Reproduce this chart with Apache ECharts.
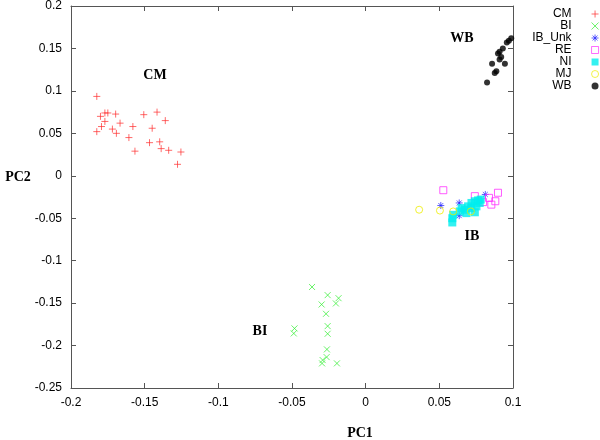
<!DOCTYPE html>
<html><head><meta charset="utf-8">
<script src="https://cdn.jsdelivr.net/npm/echarts@6/dist/echarts.min.js"></script>
<style>html,body{margin:0;padding:0;background:#fff}#c{width:600px;height:440px}</style>
</head><body><div id="c"></div>
<script>
var seriesNames = ['CM','BI','IB_Unk','RE','NI','MJ','WB'];
var xTicks = [-0.2,-0.15,-0.1,-0.05,0,0.05,0.1];
var yTicks = [-0.25,-0.2,-0.15,-0.1,-0.05,0,0.05,0.1,0.15,0.2];
var cmData = [[-0.1825,0.0935],[-0.180,0.070],[-0.177,0.074],[-0.175,0.074],[-0.1697,0.0727],[-0.177,0.064],[-0.1793,0.058],[-0.1825,0.052],[-0.1667,0.062],[-0.1719,0.055],[-0.1692,0.050],[-0.1607,0.045],[-0.158,0.058],[-0.1506,0.072],[-0.1416,0.075],[-0.136,0.065],[-0.1449,0.056],[-0.1566,0.029],[-0.1467,0.039],[-0.1398,0.040],[-0.1388,0.032],[-0.1337,0.030],[-0.1254,0.028],[-0.1277,0.0135]];
var biData = [[-0.0364,-0.131],[-0.0258,-0.1406],[-0.0184,-0.1442],[-0.0202,-0.1504],[-0.0299,-0.1516],[-0.0269,-0.1626],[-0.0483,-0.1798],[-0.0488,-0.1857],[-0.0258,-0.1771],[-0.0258,-0.1861],[-0.0263,-0.2045],[-0.0265,-0.2136],[-0.0292,-0.2171],[-0.0296,-0.221],[-0.0195,-0.221]];
var ibUnkData = [[0.051,-0.035],[0.0635,-0.032],[0.0635,-0.047],[0.0812,-0.022]];
var reData = [[0.0527,-0.017],[0.0741,-0.024],[0.0837,-0.026],[0.088,-0.030],[0.0853,-0.034],[0.0898,-0.020],[0.0797,-0.031]];
var niData = [[0.0588,-0.055],[0.0588,-0.050],[0.0594,-0.046],[0.0639,-0.042],[0.0673,-0.040],[0.0695,-0.036],[0.0718,-0.032],[0.0741,-0.030],[0.0763,-0.029],[0.0781,-0.028],[0.0684,-0.044],[0.0741,-0.043],[0.0718,-0.038],[0.0752,-0.036],[0.0651,-0.038],[0.0774,-0.032]];
var mjData = [[0.0363,-0.040],[0.0504,-0.041],[0.0594,-0.042],[0.0714,-0.042]];
var wbData = [[0.0972,0.159],[0.0988,0.162],[0.0958,0.157],[0.0931,0.150],[0.0909,0.146],[0.0898,0.144],[0.092,0.140],[0.0909,0.137],[0.0858,0.132],[0.0945,0.132],[0.0887,0.123],[0.0876,0.121],[0.0824,0.110]];

var chart = echarts.init(document.getElementById('c'), null, {renderer:'canvas'});
var fmt = function(v){ return String(+(+v).toFixed(2)); };
var axCol = '#555';
function strokeSym(name, data, path, col, size){
  return {name:name, type:'scatter', data:data, symbol:path, symbolSize:size,
    itemStyle:{color:'rgba(0,0,0,0)', borderColor:col, borderWidth:0.9}};
}
var series = [
  strokeSym('CM', cmData, 'path://M5,0L5,10M0,5L10,5', '#ff3030', 7),
  strokeSym('BI', biData, 'path://M0,0L10,10M10,0L0,10', '#30ee30', 6),
  strokeSym('IB_Unk', ibUnkData, 'path://M5,0L5,10M0,5L10,5M1.5,1.5L8.5,8.5M8.5,1.5L1.5,8.5', '#2222ff', 7),
  {name:'RE', type:'scatter', data:reData, symbol:'rect', symbolSize:7, itemStyle:{color:'rgba(0,0,0,0)', borderColor:'#ff33ff', borderWidth:1}},
  {name:'NI', type:'scatter', data:niData, symbol:'rect', symbolSize:8, itemStyle:{color:'#00eeee'}},
  {name:'MJ', type:'scatter', data:mjData, symbol:'circle', symbolSize:7, itemStyle:{color:'rgba(0,0,0,0)', borderColor:'#eeee00', borderWidth:1}},
  {name:'WB', type:'scatter', data:wbData, symbol:'circle', symbolSize:6, itemStyle:{color:'#000'}}
];
var lblFont = 'bold 14px "Liberation Serif", "DejaVu Serif", serif';
function txt(x,y,s){ return {type:'text', x:x, y:y, style:{text:s, font:lblFont, fill:'#000', align:'center', verticalAlign:'middle', textAlign:'center', textVerticalAlign:'middle'}}; }
chart.setOption({
  animation:false,
  backgroundColor:'#fff',
  grid:{left:71, right:87, top:6, bottom:52, containLabel:false},
  xAxis:[
    {type:'value', min:xTicks[0], max:xTicks[xTicks.length-1], interval:0.05, position:'bottom',
     axisLine:{onZero:false, lineStyle:{color:axCol}}, axisTick:{inside:true, length:5, lineStyle:{color:axCol}},
     axisLabel:{formatter:fmt, color:'#000', fontSize:12, fontFamily:'"Liberation Sans", Arial, sans-serif', margin:9},
     splitLine:{show:false}},
    {type:'value', min:xTicks[0], max:xTicks[xTicks.length-1], interval:0.05, position:'top',
     axisLine:{onZero:false, lineStyle:{color:axCol}}, axisTick:{inside:true, length:5, lineStyle:{color:axCol}},
     axisLabel:{show:false}, splitLine:{show:false}}
  ],
  yAxis:[
    {type:'value', min:yTicks[0], max:yTicks[yTicks.length-1], interval:0.05, position:'left',
     axisLine:{show:true, onZero:false, lineStyle:{color:axCol}}, axisTick:{show:true, inside:true, length:5, lineStyle:{color:axCol}},
     axisLabel:{formatter:fmt, color:'#000', fontSize:12, fontFamily:'"Liberation Sans", Arial, sans-serif', margin:9},
     splitLine:{show:false}},
    {type:'value', min:yTicks[0], max:yTicks[yTicks.length-1], interval:0.05, position:'right',
     axisLine:{show:true, onZero:false, lineStyle:{color:axCol}}, axisTick:{show:true, inside:true, length:5, lineStyle:{color:axCol}},
     axisLabel:{show:false}, splitLine:{show:false}}
  ],
  legend:{data:seriesNames, orient:'vertical', right:1, top:8, padding:0, align:'right', itemGap:0, itemWidth:7, itemHeight:7,
    itemStyle:{borderWidth:0.9},
    textStyle:{fontSize:12, lineHeight:10.5, color:'#000', fontFamily:'"Liberation Sans", Arial, sans-serif', padding:[0,15,0,0]}},
  graphic:[txt(155,75,'CM'), txt(462,38,'WB'), txt(472,236,'IB'), txt(260,331,'BI'), txt(18,177,'PC2'), txt(360,433,'PC1')],
  series:series
});
</script></body></html>
